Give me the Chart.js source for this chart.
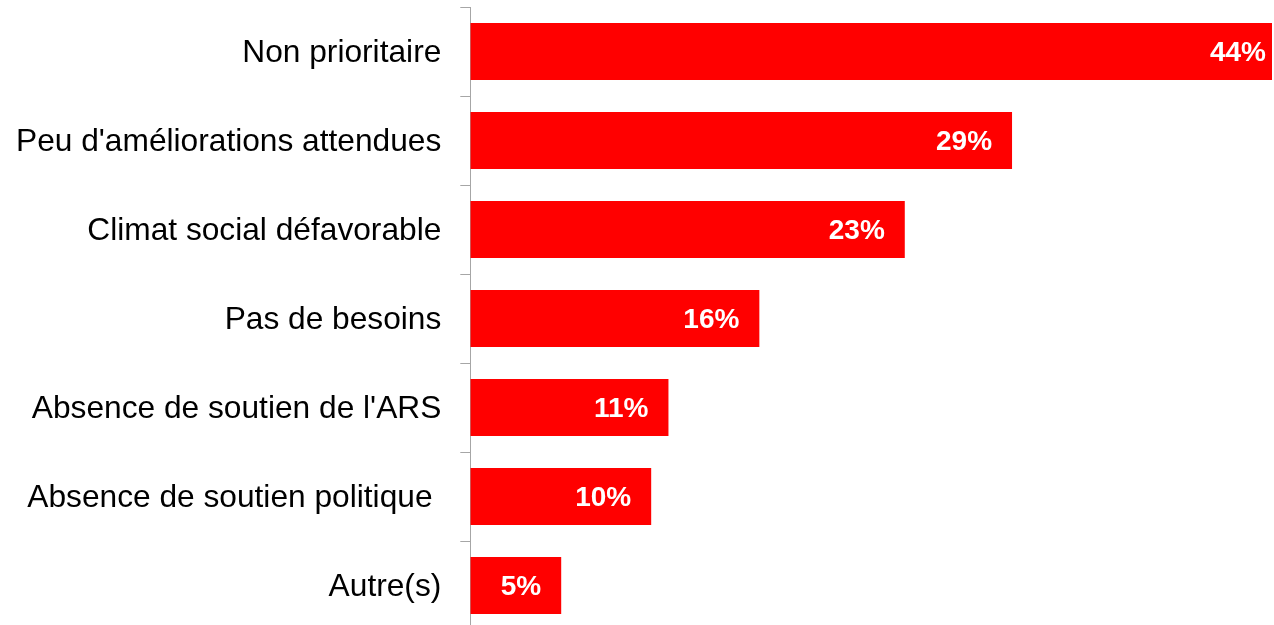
<!DOCTYPE html>
<html lang="fr">
<head>
<meta charset="utf-8">
<title>Raisons</title>
<script src="https://cdn.jsdelivr.net/npm/chart.js@4/dist/chart.umd.min.js"></script>
<style>
    html, body { margin: 0; padding: 0; background: #fff; overflow: hidden; }
    #wrap { position: relative; width: 1274px; height: 630px; }
</style>
</head>
<body>
<div id="wrap"><canvas id="chart"></canvas></div>
<script>
// Categories, top to bottom
const categories = [
    'Non prioritaire',
    "Peu d'améliorations attendues",
    'Climat social défavorable',
    'Pas de besoins',
    "Absence de soutien de l'ARS",
    'Absence de soutien politique ',
    'Autre(s)'
];

// Bar lengths (percent)
const values = [44.1, 29.8, 23.9, 15.9, 10.9, 9.95, 5.0];

// Labels printed on the bars
const valueLabels = ['44%', '29%', '23%', '16%', '11%', '10%', '5%'];

const barColor = '#ff0000';
const axisColor = '#a6a6a6';

// Draw the value labels near the end of each bar
const barLabels = {
    id: 'barLabels',
    afterDatasetsDraw(chart) {
        const ctx = chart.ctx;
        const meta = chart.getDatasetMeta(0);
        ctx.save();
        ctx.font = 'bold 28px "Liberation Sans", Arial, sans-serif';
        ctx.fillStyle = '#ffffff';
        ctx.textAlign = 'right';
        ctx.textBaseline = 'middle';
        meta.data.forEach((bar, i) => {
            // the bar that fills the plot keeps its label close to the edge
            const inset = bar.x >= chart.chartArea.right - 1 ? 6 : 20;
            ctx.fillText(valueLabels[i], bar.x - inset, bar.y + 2);
        });
        ctx.restore();
    }
};

new Chart(document.getElementById('chart'), {
    type: 'bar',
    data: {
        labels: categories,
        datasets: [{
            data: values,
            backgroundColor: barColor,
            borderWidth: 0,
            barPercentage: 0.64,
            categoryPercentage: 1
        }]
    },
    options: {
        indexAxis: 'y',
        responsive: true,
        maintainAspectRatio: false,
        animation: false,
        layout: { padding: { left: -3, top: 7, right: 2, bottom: 0 } },
        plugins: {
            legend: { display: false },
            tooltip: { enabled: false }
        },
        scales: {
            x: {
                display: false,
                min: 0,
                max: values[0]
            },
            y: {
                grid: {
                    drawOnChartArea: false,
                    drawTicks: true,
                    tickLength: 10,
                    color: axisColor,
                    lineWidth: 1
                },
                border: { display: true, color: axisColor, width: 1 },
                ticks: {
                    color: '#000000',
                    padding: 19,
                    labelOffset: 2,
                    font: { family: '"Liberation Sans", Arial, sans-serif', size: 31.7 }
                },
                // no extra room above/below for the first and last label
                afterFit(scale) {
                    scale.paddingTop = 0;
                    scale.paddingBottom = 0;
                }
            }
        }
    },
    plugins: [barLabels]
});
</script>
</body>
</html>
